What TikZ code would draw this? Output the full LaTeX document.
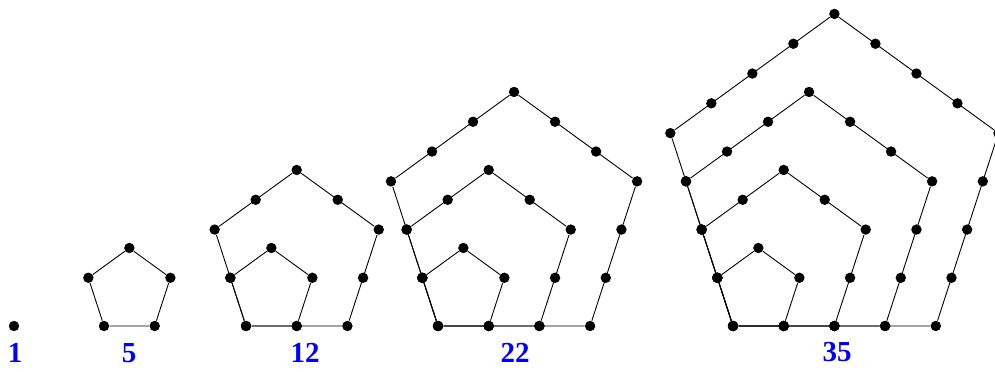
\documentclass[tikz,border=0pt]{standalone}
\usepackage{fontspec}
\setmainfont{Liberation Serif}
\usepackage{tikz}
\usetikzlibrary{calc}

\begin{document}
\begin{tikzpicture}[
    x=0.5pt, y=0.5pt,
    dot/.style={circle, fill=black, inner sep=0pt, minimum size=5.2pt},
    edge/.style={line width=0.45pt},
    count/.style={font=\fontsize{14.5}{16}\selectfont\bfseries, text=blue}
]
    \useasboundingbox (0,0) rectangle (995,371);
    \def\side{50.7}

    % the single dot
    \node[dot] (f1-1-0) at (14,45) {};

    % nested pentagons, all sharing the lower left corner
    \foreach \f/\x in {2/104, 3/246, 4/438, 5/733} {
        \foreach \k in {2,...,\f} {
            \pgfmathsetmacro{\len}{(\k-1)*\side}
            \pgfmathtruncatemacro{\m}{\k-2}
            \node[dot] (f\f-\k-0) at (\x,45) {};
            \node[dot] (f\f-\k-1) at (\x+\len,45) {};
            \node[dot] (f\f-\k-2) at ({\x+\len+\len*cos(72)},{45+\len*sin(72)}) {};
            \node[dot] (f\f-\k-3) at ({\x+0.5*\len},{45+\len*1.5388}) {};
            \node[dot] (f\f-\k-4) at ({\x-\len*cos(72)},{45+\len*sin(72)}) {};
            \draw[edge] (f\f-\k-0) -- (f\f-\k-1) -- (f\f-\k-2) -- (f\f-\k-3) -- (f\f-\k-4) -- (f\f-\k-0);
            % dots along the sides
            \ifnum\m>0
                \foreach \j/\jj in {0/1, 1/2, 2/3, 3/4, 4/0} {
                    \foreach \i in {1,...,\m} {
                        \node[dot] (f\f-\k-\j-\i) at ($(f\f-\k-\j)!{\i/(\k-1)}!(f\f-\k-\jj)$) {};
                    }
                }
            \fi
        }
    }

    % pentagonal numbers
    \node[count] (n1) at (15,18) {1};
    \node[count] (n5) at (129,18) {5};
    \node[count] (n12) at (305,18) {12};
    \node[count] (n22) at (515,18) {22};
    \node[count] (n35) at (837,19) {35};
\end{tikzpicture}
\end{document}
